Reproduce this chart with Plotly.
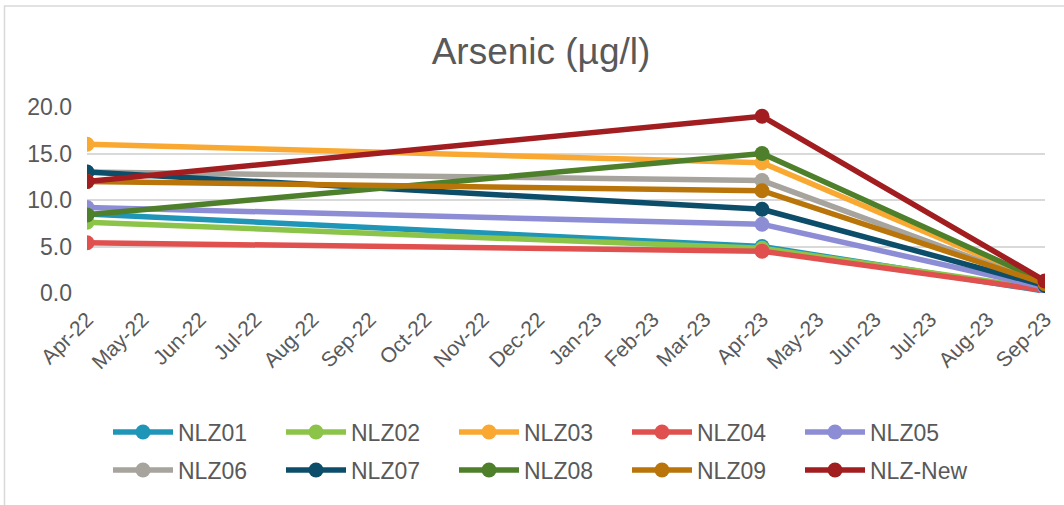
import plotly.graph_objects as go

# Sampling dates and arsenic concentrations (µg/l) per monitoring point
dates = ["2022-04-01", "2023-04-01", "2023-09-01"]
series_names = ["NLZ01", "NLZ02", "NLZ03", "NLZ04", "NLZ05",
                "NLZ06", "NLZ07", "NLZ08", "NLZ09", "NLZ-New"]
nlz01 = [8.5, 5.0, 0.2]
nlz02 = [7.6, 4.8, 0.4]
nlz03 = [16.0, 14.0, 1.1]
nlz04 = [5.4, 4.5, 0.3]
nlz05 = [9.2, 7.4, 0.6]
nlz06 = [13.0, 12.1, 0.9]
nlz07 = [13.0, 9.0, 0.8]
nlz08 = [8.4, 15.0, 1.2]
nlz09 = [12.0, 11.0, 1.0]
nlz_new = [12.0, 19.0, 1.3]
values = [nlz01, nlz02, nlz03, nlz04, nlz05, nlz06, nlz07, nlz08, nlz09, nlz_new]

colors = ["#1f95b8", "#8cc449", "#f9a932", "#e0504f", "#8d8dd6",
          "#a7a39d", "#0c4e6a", "#4e7f2b", "#b9750a", "#a11d1f"]

FONT = "Liberation Sans, Arial, sans-serif"
TXT = "#595959"

fig = go.Figure()
for i, (name, ys, col) in enumerate(zip(series_names, values, colors)):
    fig.add_trace(go.Scatter(
        x=dates, y=ys, name=name, mode="lines+markers",
        line=dict(color=col, width=5.5),
        marker=dict(color=col, size=15),
        legend="legend" if i < 5 else "legend2",
    ))

# plot area spans x 87..1045 px, y 107..293 px
L, R, T, B = 87, 19, 107, 212
W, H = 1064, 505
pw, ph = W - L - R, H - T - B


def px_x(p):
    return (p - L) / pw


def px_y(p):
    return (H - B - p) / ph


legend_common = dict(
    orientation="h", xanchor="left", yanchor="middle",
    font=dict(family=FONT, size=23, color=TXT),
    itemwidth=60, entrywidth=98, entrywidthmode="pixels",
    bgcolor="rgba(0,0,0,0)", traceorder="normal",
)

fig.update_layout(
    width=W, height=H,
    margin=dict(l=L, r=R, t=T, b=B, autoexpand=False),
    paper_bgcolor="white", plot_bgcolor="white",
    title=dict(text="Arsenic (µg/l)", x=541 / W, xanchor="center",
               y=1 - 51 / H, yanchor="middle",
               font=dict(family=FONT, size=37, color=TXT)),
    xaxis=dict(
        type="date", range=["2022-04-01", "2023-09-01"],
        dtick="M1", tick0="2022-04-01", tickformat="%b-%y",
        tickangle=-45, showgrid=False, zeroline=False,
        showline=False, ticks="", ticklabelstandoff=9,
        tickfont=dict(family=FONT, size=21, color=TXT),
        automargin=False,
    ),
    yaxis=dict(
        range=[0, 20], dtick=5, tickformat=".1f",
        showgrid=True, gridcolor="#d9d9d9", gridwidth=1.5,
        zeroline=False, showline=False, ticks="", ticklabelstandoff=14,
        tickfont=dict(family=FONT, size=23, color=TXT),
        automargin=False,
    ),
    legend=dict(x=px_x(108), y=px_y(432), **legend_common),
    legend2=dict(x=px_x(108), y=px_y(470), **legend_common),
    showlegend=True,
    shapes=[dict(
        type="rect", xref="paper", yref="paper",
        x0=px_x(4.5), x1=px_x(1100), y0=px_y(540), y1=px_y(6),
        line=dict(color="#d9d9d9", width=1.5), layer="below",
    )],
)

fig.write_html("out.html")
